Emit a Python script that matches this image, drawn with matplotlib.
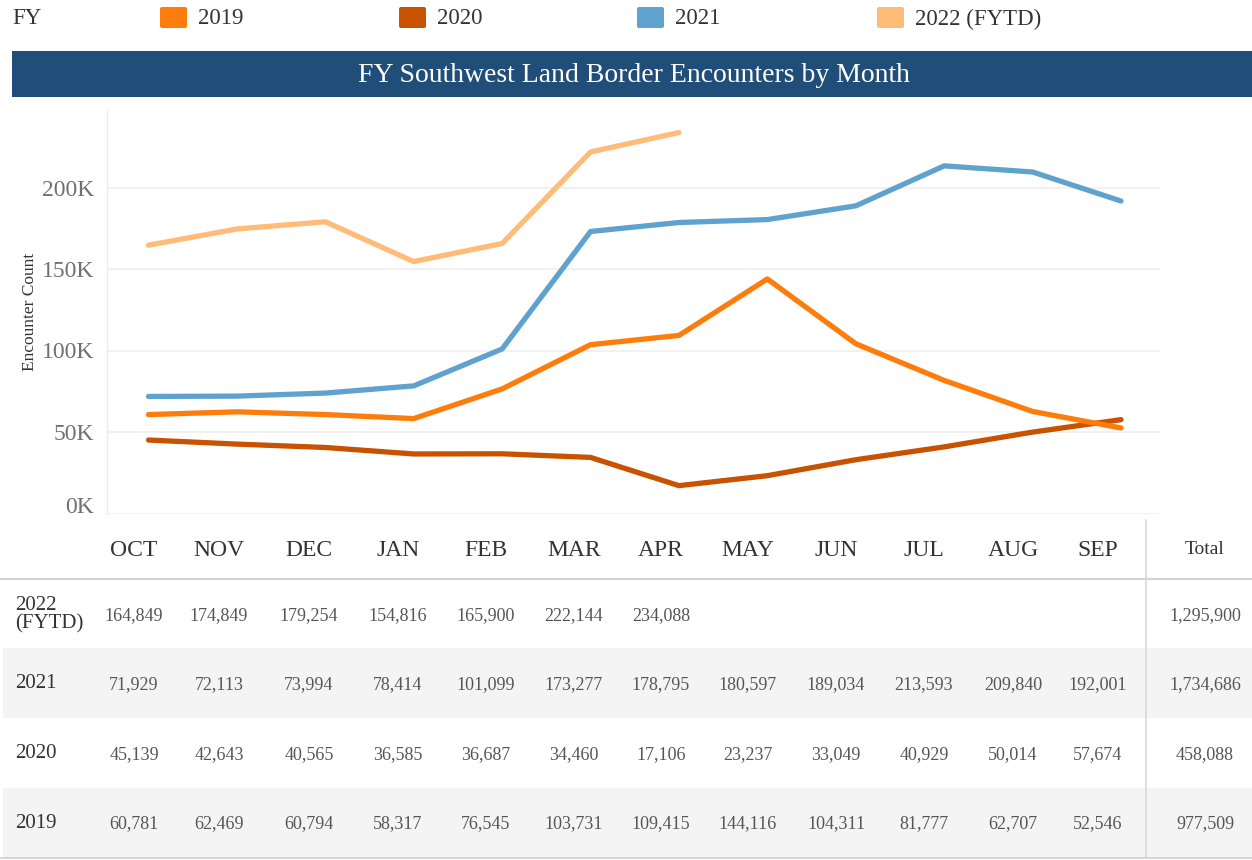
import matplotlib
matplotlib.use("Agg")
import matplotlib.pyplot as plt
import matplotlib.transforms as mtransforms
from matplotlib.patches import Rectangle, FancyBboxPatch
import numpy as np

plt.rcParams['font.family'] = ['Liberation Serif', 'DejaVu Serif']

# ---------------- data ----------------
months = ["OCT", "NOV", "DEC", "JAN", "FEB", "MAR", "APR", "MAY", "JUN", "JUL", "AUG", "SEP"]
fy2019 = [60781, 62469, 60794, 58317, 76545, 103731, 109415, 144116, 104311, 81777, 62707, 52546]
fy2020 = [45139, 42643, 40565, 36585, 36687, 34460, 17106, 23237, 33049, 40929, 50014, 57674]
fy2021 = [71929, 72113, 73994, 78414, 101099, 173277, 178795, 180597, 189034, 213593, 209840, 192001]
fy2022 = [164849, 174849, 179254, 154816, 165900, 222144, 234088]
totals = {"2022": 1295900, "2021": 1734686, "2020": 458088, "2019": 977509}
legend_labels = ["2019", "2020", "2021", "2022 (FYTD)"]
yticks = [0, 50000, 100000, 150000, 200000]
ytick_labels = ["0K", "50K", "100K", "150K", "200K"]
title = "FY Southwest Land Border Encounters by Month"
ylabel = "Encounter Count"

colors = {"2019": "#fc7d0b", "2020": "#c85200", "2021": "#5fa2ce", "2022": "#ffbc79"}

W, H = 1252, 860
fig = plt.figure(figsize=(W / 100, H / 100), dpi=100)

# overlay axes in pixel coordinates
ov = fig.add_axes([0, 0, 1, 1])
ov.set_xlim(0, W)
ov.set_ylim(H, 0)
ov.axis("off")

# ---------------- legend row ----------------
ov.text(12, 19, "FY", fontsize=16.5, color="#333333", va="center", ha="left")
leg_swatch_x = [160, 399, 637, 877]
series_keys = ["2019", "2020", "2021", "2022"]
for sx, key, lab in zip(leg_swatch_x, series_keys, legend_labels):
    ov.add_patch(FancyBboxPatch((sx, 7), 27, 21, boxstyle="round,pad=0,rounding_size=2",
                                facecolor=colors[key], edgecolor="none"))
    ov.text(sx + 38, 19, lab, fontsize=16.5, color="#333333", va="center", ha="left")

# ---------------- title banner ----------------
ov.add_patch(Rectangle((12, 51), W - 12, 46, facecolor="#204e78", edgecolor="none"))
ov.text(634, 76, title, fontsize=20, color="white", ha="center", va="center")

# ---------------- line chart ----------------
ax_l, ax_r, ax_t, ax_b = 107, 1160, 109, 513.5
ax = fig.add_axes([ax_l / W, (H - ax_b) / H, (ax_r - ax_l) / W, (ax_b - ax_t) / H])
ax.patch.set_alpha(0)
step = (1121 - 148.5) / 11
ax.set_xlim(-(148.5 - ax_l) / step, 11 + (ax_r - 1121) / step)
px_per_50k = (ax_b - 188) / 4
ax.set_ylim(0, (ax_b - ax_t) / px_per_50k * 50000)
for s in ["top", "right", "bottom"]:
    ax.spines[s].set_visible(False)
ax.spines["left"].set_color("#ececec")
ax.spines["left"].set_linewidth(1)
ax.set_xticks([])
ax.set_yticks([])
for v in yticks:
    ax.axhline(v, color="#efefef", lw=1.2, zorder=0)

blend = mtransforms.blended_transform_factory(ax.transAxes, ax.transData)
for v, lab in zip(yticks, ytick_labels):
    dy = (8 / 100 if v == 0 else 0) - 2 / 100
    off = mtransforms.ScaledTranslation(-13 / 100, dy, fig.dpi_scale_trans)
    ax.text(0, v, lab, transform=blend + off, ha="right", va="center", fontsize=17, color="#707070")

fig.text(30 / W, 1 - 312 / H, ylabel, rotation=90, fontsize=12.5, color="#333333",
         ha="center", va="center")

lw = 3.8
x = np.arange(len(months))
ax.plot(x, fy2020, color=colors["2020"], lw=lw, solid_capstyle="round", solid_joinstyle="round", zorder=3)
ax.plot(x, fy2019, color=colors["2019"], lw=lw, solid_capstyle="round", solid_joinstyle="round", zorder=4)
ax.plot(x, fy2021, color=colors["2021"], lw=lw, solid_capstyle="round", solid_joinstyle="round", zorder=5)
ax.plot(np.arange(len(fy2022)), fy2022, color=colors["2022"], lw=lw, solid_capstyle="round",
        solid_joinstyle="round", zorder=6)

# ---------------- table ----------------
col_x = [134, 219, 309, 398, 486, 574, 661, 748, 836, 924, 1013, 1098]
total_x = 1205
header_y = 550
row_bounds = [(580, 648), (648, 718), (718, 788), (788, 857)]
row_keys = ["2022", "2021", "2020", "2019"]
row_labels = ["2022\n(FYTD)", "2021", "2020", "2019"]
row_data = {"2022": fy2022, "2021": fy2021, "2020": fy2020, "2019": fy2019}

for i, (y0, y1) in enumerate(row_bounds):
    if i % 2 == 1:
        ov.add_patch(Rectangle((3, y0), W - 3, y1 - y0, facecolor="#f4f4f4", edgecolor="none", zorder=0))

ov.plot([0, W], [579, 579], color="#d4d4d4", lw=1.6, zorder=1)
ov.plot([0, W], [858, 858], color="#d4d4d4", lw=1.4, zorder=1)
ov.plot([1146, 1146], [520, 858], color="#d8d8d8", lw=1.2, zorder=1)

for cx, m in zip(col_x, months):
    ov.text(cx, header_y, m, fontsize=17, color="#333333", ha="center", va="center")
ov.text(total_x, header_y, "Total", fontsize=14, color="#333333", ha="center", va="center")

for (y0, y1), key, lab in zip(row_bounds, row_keys, row_labels):
    yc = (y0 + y1) / 2 + 1.5
    ov.text(15, yc - 1, lab, fontsize=15, color="#333333", ha="left", va="center", linespacing=0.95)
    for cx, v in zip(col_x, row_data[key]):
        ov.text(cx, yc, f"{v:,}", fontsize=13, color="#555555", ha="center", va="center")
    ov.text(total_x, yc, f"{totals[key]:,}", fontsize=13, color="#555555", ha="center", va="center")

fig.savefig("out.png", dpi=100)
